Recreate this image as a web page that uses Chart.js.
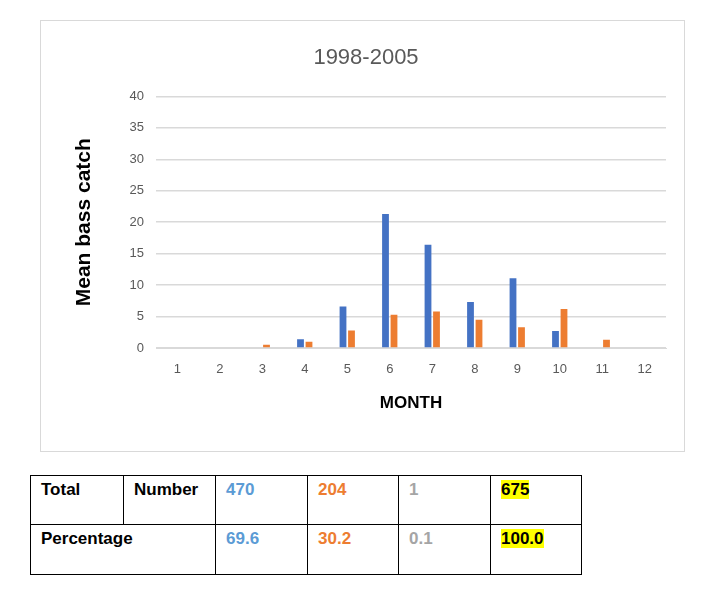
<!DOCTYPE html>
<html>
<head>
<meta charset="utf-8">
<script src="https://cdn.jsdelivr.net/npm/chart.js@4"></script>
<style>
  body { margin: 0; background: #fff; width: 711px; height: 599px; position: relative; }
  #box { position: absolute; left: 40px; top: 20px; width: 645px; height: 432px; border: 1px solid #d9d9d9; box-sizing: border-box; }
  #box canvas { position: absolute; left: 0; top: 0; }
  table { position: absolute; left: 30px; top: 475px; border-collapse: collapse; font-family: "Liberation Sans", Arial, sans-serif; font-weight: bold; font-size: 17px; }
  td { border: 1px solid #000; vertical-align: top; padding: 4px 0 0 10px; box-sizing: border-box; }
  .hl { background: #ffff00; }
</style>
</head>
<body>
<div id="box"><canvas id="chart" width="645" height="432"></canvas></div>
<table id="tbl"></table>
<script>
const months = ['1', '2', '3', '4', '5', '6', '7', '8', '9', '10', '11', '12'];
const seriesA = [0, 0, 0, 1.4, 6.6, 21.3, 16.4, 7.3, 11.1, 2.7, 0, 0];
const seriesB = [0, 0, 0.5, 1.0, 2.8, 5.3, 5.8, 4.5, 3.3, 6.2, 1.3, 0];

const totalNumbers = ['470', '204', '1', '675'];
const percentages = ['69.6', '30.2', '0.1', '100.0'];
const tableColors = ['#5b9bd5', '#ed7d31', '#a5a5a5', '#000'];

// table under the chart
function buildTable() {
  const tbl = document.getElementById('tbl');
  const widths = [93, 92, 92, 91, 92, 91];
  let r1 = '<tr style="height:49px">';
  r1 += `<td style="width:${widths[0]}px">Total</td><td style="width:${widths[1]}px">Number</td>`;
  totalNumbers.forEach((v, i) => {
    const txt = i === 3 ? `<span class="hl">${v}</span>` : v;
    r1 += `<td style="width:${widths[i + 2]}px;color:${tableColors[i]}">${txt}</td>`;
  });
  r1 += '</tr>';
  let r2 = '<tr style="height:50px"><td colspan="2">Percentage</td>';
  percentages.forEach((v, i) => {
    const txt = i === 3 ? `<span class="hl">${v}</span>` : v;
    r2 += `<td style="color:${tableColors[i]}">${txt}</td>`;
  });
  r2 += '</tr>';
  tbl.innerHTML = r1 + r2;
}
buildTable();

const tickFont = { family: '"Liberation Sans Narrow", "Liberation Sans", sans-serif', size: 13 };

new Chart(document.getElementById('chart').getContext('2d'), {
  type: 'bar',
  data: {
    labels: months,
    datasets: [
      { data: seriesA, backgroundColor: '#4472c4', categoryPercentage: 0.4, barPercentage: 0.8 },
      { data: seriesB, backgroundColor: '#ed7d31', categoryPercentage: 0.4, barPercentage: 0.8 }
    ]
  },
  options: {
    responsive: false,
    animation: false,
    layout: { padding: { left: 25, right: 20, bottom: 25, top: 0 } },
    plugins: {
      legend: { display: false },
      tooltip: { enabled: false },
      title: {
        display: true,
        text: '1998-2005',
        color: '#595959',
        font: { family: '"Liberation Sans Narrow", "Liberation Sans", sans-serif', size: 22, weight: 'normal' },
        padding: { top: 24, bottom: 25 }
      }
    },
    scales: {
      x: {
        grid: { display: false, drawTicks: false },
        border: { color: '#d9d9d9' },
        ticks: { color: '#595959', font: tickFont, padding: 14, maxRotation: 0 },
        title: {
          display: true, text: 'MONTH', color: '#000',
          font: { family: '"Liberation Sans", sans-serif', size: 17, weight: 'bold' },
          padding: { top: 4, bottom: 14 }
        },
        afterFit: s => { s.height = 80; }
      },
      y: {
        min: 0, max: 40,
        ticks: { stepSize: 5, color: '#595959', font: tickFont, padding: 12 },
        grid: { color: '#d9d9d9', lineWidth: 1.5, drawTicks: false },
        border: { display: false },
        title: {
          display: true, text: 'Mean bass catch', color: '#000',
          font: { family: '"Liberation Sans", sans-serif', size: 21, weight: 'bold' },
          padding: { top: 6, bottom: 4 }
        },
        afterFit: s => { s.width = 90; }
      }
    }
  }
});
</script>
</body>
</html>
